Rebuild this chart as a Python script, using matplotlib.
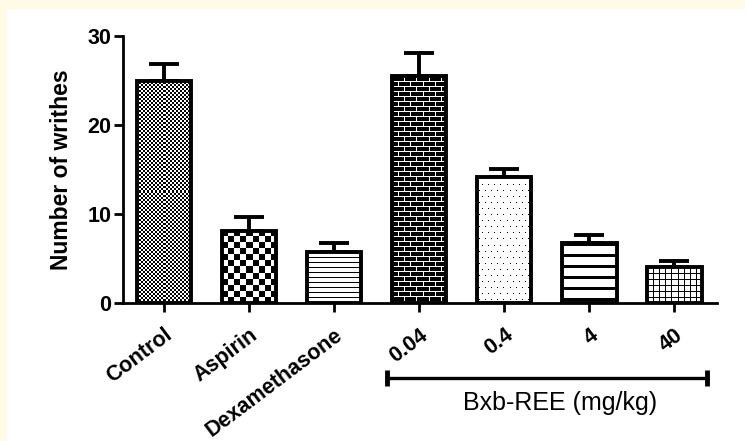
import numpy as np
import matplotlib.pyplot as plt
from matplotlib.patches import Rectangle
from matplotlib.transforms import blended_transform_factory

plt.rcParams['font.family'] = ['Liberation Sans', 'DejaVu Sans']

# 數據
groups = ['Control', 'Aspirin', 'Dexamethasone', '0.04', '0.4', '4', '40']
writhes = [25.0, 8.1, 5.7, 25.5, 14.2, 6.7, 4.0]
sem = [1.8, 1.6, 1.0, 2.6, 0.9, 0.9, 0.7]
textures = ['fine_check', 'check', 'hlines', 'brick', 'dots', 'thick_h', 'grid']
dose_groups = ['0.04', '0.4', '4', '40']
dose_label = 'Bxb-REE (mg/kg)'
yticks = [0, 10, 20, 30]


def texture(kind, h, w):
    # 1 = 白, 0 = 黑
    i, j = np.mgrid[0:h, 0:w]
    if kind == 'fine_check':
        t = (i // 2 + j // 2) % 2
    elif kind == 'check':
        t = (i // 6 + j // 6) % 2
    elif kind == 'hlines':
        t = (i % 5 != 0)
    elif kind == 'brick':
        t = (i % 5 == 0) | ((j + 6 * ((i // 5) % 2)) % 12 == 0)
    elif kind == 'dots':
        t = ~((i % 6 == 2) & ((j + 3 * ((i // 6) % 2)) % 6 == 2))
    elif kind == 'thick_h':
        t = (i % 11 >= 3)
    else:
        t = ~((i % 6 == 0) | (j % 6 == 0))
    return t.astype(float)


fig = plt.figure(figsize=(7.45, 4.41), dpi=100, facecolor='#fffbe6')
# 白色底板
fig.patches.append(Rectangle((7 / 745, 0), 1, 1 - 9 / 441, transform=fig.transFigure,
                             facecolor='white', edgecolor='none', zorder=-10))
ax = fig.add_axes([123 / 745, 138 / 441, 594 / 745, 267 / 441])
ax.set_facecolor('none')

x = np.arange(len(groups))
width = 0.64
lw = 2.8

ax.set_xlim(-0.48, len(groups) - 0.5)
ax.set_ylim(0, 30)

bars = ax.bar(x, writhes, width=width, color='white', edgecolor='none', zorder=2)
ax.errorbar(x, writhes, yerr=[np.zeros(len(sem)), sem], fmt='none', ecolor='black',
            elinewidth=lw, capsize=10.5, capthick=lw, zorder=1)

# 填充圖案
for bar, kind in zip(bars, textures):
    x0, x1 = bar.get_x(), bar.get_x() + bar.get_width()
    y1 = bar.get_height()
    (px0, py0), (px1, py1) = ax.transData.transform([[x0, 0], [x1, y1]])
    tex = texture(kind, max(int(round(py1 - py0)), 1), max(int(round(px1 - px0)), 1))
    im = ax.imshow(tex, cmap='gray', vmin=0, vmax=1, extent=(x0, x1, 0, y1),
                   interpolation='nearest', aspect='auto', zorder=2.5)
    im.set_clip_path(bar)

ax.bar(x, writhes, width=width, fill=False, edgecolor='black', linewidth=lw, zorder=3)
ax.set_xlim(-0.48, len(groups) - 0.5)
ax.set_ylim(0, 30)

# 座標軸
for side in ['top', 'right']:
    ax.spines[side].set_visible(False)
for side in ['left', 'bottom']:
    ax.spines[side].set_linewidth(2)
ax.tick_params(axis='both', width=2, length=6.5, direction='out')
ax.tick_params(axis='y', pad=2)
ax.tick_params(axis='x', pad=9)

ax.set_yticks(yticks)
ax.set_yticklabels([str(v) for v in yticks], fontsize=15.5, fontweight='bold')
ax.set_xticks(x)
ax.set_xticklabels(groups, rotation=37, ha='right', va='top', rotation_mode='anchor',
                   fontsize=15.5, fontweight='bold')

ax.set_ylabel('Number of writhes', fontsize=16.5, fontweight='bold')
ax.yaxis.set_label_coords(-0.085, 0.5)

# 劑量組的括號線
trans = blended_transform_factory(ax.transData, fig.transFigure)
i0, i1 = groups.index(dose_groups[0]), groups.index(dose_groups[-1])
ax.plot([i0 - 0.38, i1 + 0.38], [1 - 378 / 441] * 2, color='black', lw=2.4,
        transform=trans, clip_on=False, marker='|', markersize=11, markeredgewidth=3.5)
ax.text((i0 + i1) / 2 + 0.16, 1 - 403 / 441, dose_label, transform=trans,
        ha='center', va='center', fontsize=18)

fig.savefig('out.png', dpi=100, facecolor=fig.get_facecolor())
